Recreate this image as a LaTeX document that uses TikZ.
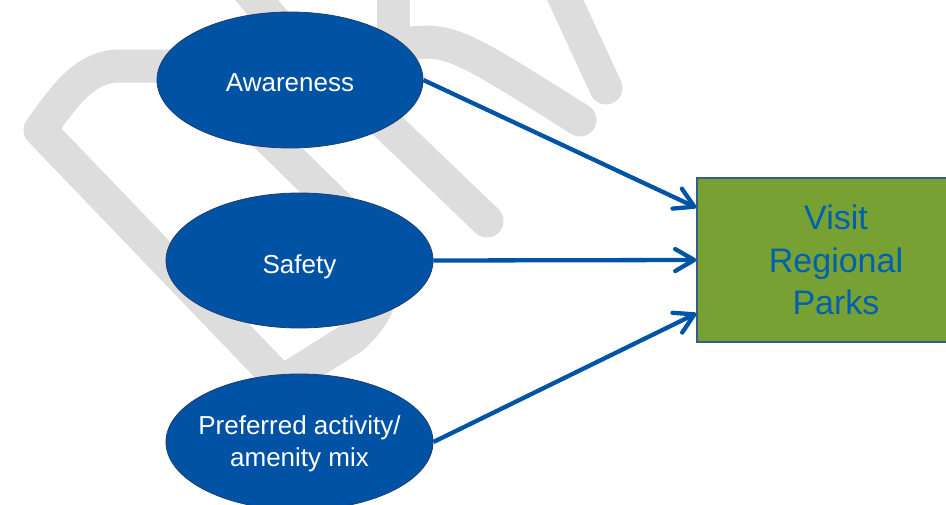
\documentclass[tikz,border=0pt]{standalone}
\usepackage{fontspec}
\setmainfont{Liberation Sans}
\usetikzlibrary{shapes.geometric,arrows.meta,calc}
\definecolor{wmgrey}{RGB}{221,221,221}
\definecolor{ellblue}{RGB}{0,82,164}
\definecolor{ellline}{RGB}{28,62,112}
\definecolor{arrblue}{RGB}{0,84,166}
\definecolor{boxgreen}{RGB}{119,161,51}
\definecolor{boxline}{RGB}{52,92,140}
\definecolor{boxtext}{RGB}{0,96,176}
\begin{document}
\begin{tikzpicture}[x=1pt,y=-1pt,
  wm/.style={draw=wmgrey,line width=33pt,line cap=round,line join=round},
  factor/.style={ellipse,fill=ellblue,draw=ellline,line width=0.8pt,inner sep=0pt},
  ftext/.style={inner sep=0pt,text=white,font=\fontsize{26}{32}\selectfont,align=center},
  target/.style={rectangle,fill=boxgreen,draw=boxline,line width=1.3pt,inner sep=0pt,minimum width=278pt,minimum height=164pt,text=boxtext,font=\fontsize{34}{42.5}\selectfont,align=center},
  link/.style={draw=arrblue,line width=4.3pt,-{Straight Barb[length=19pt,width=22pt,round]}}]
\useasboundingbox (0,0) rectangle (946,504);
\clip (0,0) rectangle (946,504);
% watermark
\draw[wm] (200,66) -- (120,66) .. controls (85,66) and (65,95) .. (40,130) -- (282,382) -- (352,338) .. controls (395,300) and (390,258) .. (350,218) -- (255,125);
\draw[wm] (393,-20) -- (393,50);
\draw[wm] (395,45) .. controls (450,38) .. (580,120);
\draw[wm] (556,-20) -- (606,88);
\draw[wm] (340,80) -- (487,221);
\draw[wm] (240,-20) -- (290,40);
% nodes
\node[factor,minimum width=266pt,minimum height=136pt] (aw) at (290,80) {};
\node[factor,minimum width=267pt,minimum height=135pt] (sa) at (299.5,260.5) {};
\node[factor,minimum width=267pt,minimum height=136pt] (pr) at (299.5,442) {};
\node[ftext,anchor=base] (awt) at (290,91.7) {Awareness};
\node[ftext,anchor=base] (sat) at (299.5,273.5) {Safety};
\node[ftext] (prt) at (299.5,444) {Preferred activity/\\amenity mix};
\node[target] (vp) at (836,260) {Visit\\Regional\\Parks};
% connectors
\draw[link] (aw.east) -- ($(vp.north west)!0.183!(vp.south west)$);
\draw[link] (sa.east) -- (vp.west);
\draw[link] (pr.east) -- ($(vp.north west)!0.823!(vp.south west)$);
\end{tikzpicture}
\end{document}
